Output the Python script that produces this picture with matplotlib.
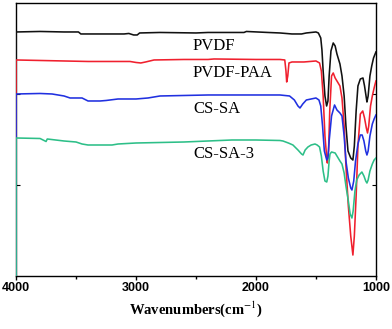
import matplotlib
matplotlib.use('Agg')
import matplotlib.pyplot as plt
from matplotlib.ticker import MultipleLocator

# spectra: (wavenumber, transmittance in a.u.)
pvdf_wn = [4000, 4000, 3800, 3600, 3480, 3460, 3300, 3100, 3060, 3020, 2990, 2970, 2800, 2500, 2400,
           2100, 2080, 1900, 1800, 1700, 1620, 1580, 1500, 1480, 1460, 1450, 1440, 1425, 1411, 1400,
           1390, 1375, 1356, 1340, 1325, 1300, 1283, 1265, 1250, 1233, 1210, 1192, 1180, 1165, 1150,
           1130, 1108, 1095, 1080, 1075, 1065, 1050, 1035, 1020, 1000]
pvdf_t = [0, 244, 244.5, 244, 244, 242, 242, 242, 242.5, 241, 241, 243, 243.5, 243, 243.5,
          243.5, 244.5, 243.5, 243, 242, 242, 243, 244, 243, 238, 226, 205, 180, 170, 175,
          200, 225, 233, 230, 222, 212, 200, 180, 150, 125, 118, 116, 130, 165, 190,
          197, 198, 190, 178, 174, 180, 200, 210, 218, 224]

paa_wn = [4000, 4000, 3800, 3600, 3400, 3200, 3050, 3000, 2960, 2920, 2850, 2600, 2400, 2350, 2000,
          1800, 1760, 1750, 1744, 1735, 1725, 1700, 1600, 1500, 1470, 1455, 1440, 1425, 1410, 1405,
          1395, 1385, 1370, 1356, 1340, 1320, 1300, 1283, 1265, 1250, 1230, 1210, 1192, 1180, 1165,
          1150, 1130, 1110, 1095, 1080, 1070, 1060, 1045, 1030, 1015, 1000]
paa_t = [0, 216, 215.5, 215, 214.5, 214.5, 214.5, 213.5, 213, 214, 216, 216.5, 216.5, 217, 216.5,
         216.5, 216, 205, 194, 200, 213, 214, 214, 215, 213, 205, 180, 140, 118, 113,
         125, 165, 200, 203, 198, 194, 190, 178, 150, 110, 70, 40, 21, 40, 80,
         130, 162, 165, 158, 148, 143, 150, 170, 180, 188, 195]

cssa_wn = [4000, 4000, 3800, 3700, 3600, 3550, 3450, 3400, 3300, 3250, 3150, 3000, 2900, 2800, 2600,
           2400, 2000, 1800, 1720, 1680, 1650, 1633, 1610, 1580, 1540, 1500, 1475, 1460, 1445, 1430,
           1410, 1400, 1390, 1370, 1345, 1325, 1300, 1283, 1265, 1250, 1230, 1210, 1200, 1185, 1170,
           1150, 1130, 1115, 1100, 1085, 1075, 1065, 1050, 1030, 1015, 1000]
cssa_t = [0, 182, 182.5, 182, 180, 178, 178, 175, 175, 175.5, 177, 177, 178, 180, 180.5,
          181, 181, 181, 180, 176, 170, 168, 172, 176, 177, 178, 176, 170, 150, 125,
          116, 118, 135, 160, 171, 166, 163, 160, 140, 115, 98, 88, 86, 95, 115,
          132, 141, 141, 135, 125, 121, 125, 140, 152, 157, 161]

cssa3_wn = [4000, 4000, 3800, 3750, 3740, 3600, 3500, 3450, 3400, 3200, 3150, 3000, 2800, 2600, 2400,
            2200, 2000, 1800, 1775, 1730, 1692, 1650, 1620, 1608, 1590, 1567, 1540, 1508, 1490, 1470,
            1455, 1440, 1425, 1410, 1400, 1390, 1383, 1370, 1340, 1320, 1300, 1283, 1265, 1250, 1230,
            1215, 1200, 1190, 1175, 1160, 1140, 1117, 1100, 1085, 1075, 1065, 1050, 1030, 1015, 1000]
cssa3_t = [0, 138, 137.5, 134.5, 137, 135, 134, 132, 131, 131, 132, 133, 133.5, 134, 135,
           136, 136, 135.5, 135, 133, 131, 126, 122, 121, 126, 129, 131, 132, 131, 129,
           120, 105, 95, 94, 100, 115, 122, 124, 123, 119, 115, 112, 103, 90, 75,
           62, 58, 65, 85, 96, 101, 104, 100, 95, 93, 96, 105, 112, 116, 118]

labels = ['PVDF', 'PVDF-PAA', 'CS-SA', 'CS-SA-3']
colors = ['#111111', '#f0202e', '#2030e0', '#2dbf88']
label_y = [230, 203, 167, 122]

plt.rcParams['mathtext.fontset'] = 'stix'

fig = plt.figure(figsize=(3.92, 3.29), dpi=100)
ax = fig.add_axes([0.041, 0.161, 0.918, 0.830])

series = [(pvdf_wn, pvdf_t), (paa_wn, paa_t), (cssa_wn, cssa_t), (cssa3_wn, cssa3_t)]
for (wn, t), c in zip(series, colors):
    ax.plot(wn, t, color=c, linewidth=1.15, zorder=3)

for name, y in zip(labels, label_y):
    ax.text(2525, y, name, ha='left', va='center', fontsize=12,
            family='Liberation Serif')

ax.set_xlim(4000, 1000)
ax.set_ylim(0, 273)
ax.xaxis.set_major_locator(MultipleLocator(1000))
ax.xaxis.set_minor_locator(MultipleLocator(500))
ax.set_yticks([91, 182])
ax.set_yticklabels([])
ax.tick_params(axis='x', which='major', direction='out', length=3, width=1,
               labelsize=9, pad=1.5)
ax.tick_params(axis='x', which='minor', direction='out', length=2.5, width=1)
ax.tick_params(axis='y', direction='in', length=3, width=0.8, right=True)
for lbl in ax.get_xticklabels():
    lbl.set_fontweight('bold')
    lbl.set_family('Liberation Sans')
for sp in ax.spines.values():
    sp.set_linewidth(1.0)

ax.set_xlabel(r'Wavenumbers(cm$^{-1}$)', fontsize=10.5, fontweight='bold',
              family='Liberation Serif', labelpad=4)

fig.savefig('out.png', dpi=100)
